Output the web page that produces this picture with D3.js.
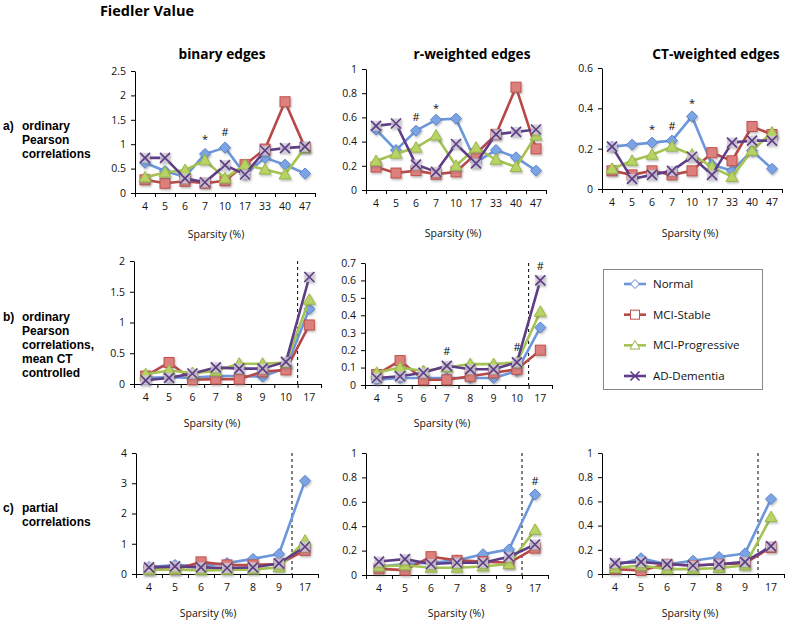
<!DOCTYPE html>
<html><head><meta charset="utf-8">
<script src="https://cdn.jsdelivr.net/npm/d3@7"></script>
<style>body{margin:0;background:#fff} svg{display:block}</style>
</head><body>
<script>
// ---------- DATA ----------
const groups = ["Normal", "MCI-Stable", "MCI-Progressive", "AD-Dementia"];
const catsA = ["4","5","6","7","10","17","33","40","47"];
const catsB = ["4","5","6","7","8","9","10","17"];
const catsC = ["4","5","6","7","8","9","17"];

// row a) ordinary Pearson correlations
const aBinNormal = [0.62,0.45,0.33,0.80,0.93,0.38,0.72,0.58,0.40];
const aBinStable = [0.27,0.20,0.24,0.20,0.25,0.58,0.90,1.87,0.93];
const aBinProg   = [0.32,0.42,0.47,0.67,0.30,0.58,0.48,0.38,0.93];
const aBinAD     = [0.72,0.72,0.30,0.22,0.57,0.38,0.87,0.92,0.95];

const aRNormal = [0.50,0.33,0.49,0.58,0.59,0.23,0.33,0.27,0.16];
const aRStable = [0.19,0.14,0.16,0.13,0.15,0.30,0.46,0.85,0.34];
const aRProg   = [0.24,0.30,0.35,0.45,0.20,0.35,0.25,0.19,0.45];
const aRAD     = [0.53,0.55,0.21,0.15,0.38,0.22,0.46,0.48,0.50];

const aCTNormal = [0.21,0.22,0.23,0.24,0.36,0.12,0.09,0.19,0.10];
const aCTStable = [0.09,0.07,0.09,0.07,0.09,0.18,0.14,0.31,0.27];
const aCTProg   = [0.10,0.14,0.17,0.21,0.17,0.11,0.06,0.19,0.28];
const aCTAD     = [0.21,0.05,0.07,0.09,0.16,0.07,0.23,0.24,0.24];

// row b) ordinary Pearson correlations, mean CT controlled
const bBinNormal = [0.10,0.11,0.10,0.13,0.13,0.12,0.26,1.22];
const bBinStable = [0.13,0.35,0.07,0.08,0.08,0.20,0.23,0.96];
const bBinProg   = [0.16,0.22,0.18,0.21,0.33,0.33,0.35,1.37];
const bBinAD     = [0.06,0.10,0.17,0.27,0.25,0.25,0.36,1.74];

const bRNormal = [0.03,0.04,0.04,0.04,0.04,0.04,0.08,0.33];
const bRStable = [0.06,0.14,0.03,0.03,0.05,0.07,0.09,0.20];
const bRProg   = [0.07,0.10,0.08,0.10,0.12,0.12,0.13,0.42];
const bRAD     = [0.04,0.05,0.07,0.11,0.09,0.09,0.13,0.60];

// row c) partial correlations
const cBinNormal = [0.23,0.30,0.27,0.36,0.50,0.66,3.08];
const cBinStable = [0.15,0.15,0.40,0.30,0.30,0.33,0.78];
const cBinProg   = [0.13,0.15,0.12,0.13,0.15,0.22,1.10];
const cBinAD     = [0.22,0.25,0.22,0.20,0.22,0.35,0.90];

const cRNormal = [0.07,0.09,0.10,0.12,0.17,0.21,0.66];
const cRStable = [0.05,0.04,0.15,0.12,0.11,0.10,0.22];
const cRProg   = [0.07,0.08,0.06,0.06,0.07,0.09,0.37];
const cRAD     = [0.11,0.13,0.09,0.10,0.10,0.15,0.25];

const cCTNormal = [0.07,0.13,0.08,0.11,0.14,0.17,0.62];
const cCTStable = [0.04,0.03,0.08,0.07,0.08,0.09,0.22];
const cCTProg   = [0.05,0.07,0.04,0.04,0.05,0.07,0.47];
const cCTAD     = [0.09,0.10,0.08,0.07,0.08,0.10,0.23];

// tick labels
const ticksABin = [0,0.5,1,1.5,2,2.5];
const ticksAR   = [0,0.2,0.4,0.6,0.8,1];
const ticksACT  = [0,0.2,0.4,0.6];
const ticksBBin = [0,0.5,1,1.5,2];
const ticksBR   = [0,0.1,0.2,0.3,0.4,0.5,0.6,0.7];
const ticksCBin = [0,1,2,3,4];
const ticksCR   = [0,0.2,0.4,0.6,0.8,1];
const ticksCCT  = [0,0.2,0.4,0.6,0.8,1];

// significance marks: [category, value, symbol]
const marksABin = [["7",1.17,"*"],["10",1.25,"#"]];
const marksAR   = [["6",0.60,"#"],["7",0.70,"*"]];
const marksACT  = [["6",0.31,"*"],["7",0.31,"#"],["10",0.44,"*"]];
const marksBR   = [["7",0.195,"#"],["10",0.22,"#"],["17",0.68,"#"]];
const marksCR   = [["17",0.77,"#"]];

// ---------- STYLE / LAYOUT ----------
const lineCol   = ["#6c97db","#b84845","#a4c352","#5f3d86"];
const markFill  = ["#7ca4e4","#dc807d","#b8d264","#cfcad8"];
const markStroke= ["#5b86cc","#c0504d","#98b84a","#5f3d86"];
const FONT = "'Open Sans', sans-serif";

const panels = [
  {cats:catsA, series:[aBinNormal,aBinStable,aBinProg,aBinAD], ticks:ticksABin, box:[135,315,71,193], title:"binary edges", tx:222, marks:marksABin, xl:[216,234]},
  {cats:catsA, series:[aRNormal,aRStable,aRProg,aRAD], ticks:ticksAR, box:[366,546,69,190], title:"r-weighted edges", tx:472, marks:marksAR, xl:[453,233]},
  {cats:catsA, series:[aCTNormal,aCTStable,aCTProg,aCTAD], ticks:ticksACT, box:[602,782,68,189], title:"CT-weighted edges", tx:716, marks:marksACT, xl:[690,233]},
  {cats:catsB, series:[bBinNormal,bBinStable,bBinProg,bBinAD], ticks:ticksBBin, box:[134,321,261,384], dashed:true, marks:[], xl:[212,423]},
  {cats:catsB, series:[bRNormal,bRStable,bRProg,bRAD], ticks:ticksBR, box:[365,552,263,385], dashed:true, marks:marksBR, xl:[442,423]},
  {cats:catsC, series:[cBinNormal,cBinStable,cBinProg,cBinAD], ticks:ticksCBin, box:[136,318,453,574], dashed:true, marks:[], xl:[208,613]},
  {cats:catsC, series:[cRNormal,cRStable,cRProg,cRAD], ticks:ticksCR, box:[366,548,453,575], dashed:true, marks:marksCR, xl:[456,613]},
  {cats:catsC, series:[cCTNormal,cCTStable,cCTProg,cCTAD], ticks:ticksCCT, box:[602,784,453,574], dashed:true, marks:[], xl:[690,613]}
];

const svg = d3.select("body").append("svg").attr("width",787).attr("height",620)
  .style("font-family",FONT);

const defs = svg.append("defs");
const f = defs.append("filter").attr("id","sh").attr("x","-50%").attr("y","-50%").attr("width","200%").attr("height","200%");
f.append("feDropShadow").attr("dx",1).attr("dy",1.5).attr("stdDeviation",1).attr("flood-color","#666").attr("flood-opacity",0.45);

function drawMarker(g, k, x, y, legend) {
  const fill = legend ? "#fff" : markFill[k];
  const st = markStroke[k];
  const m = g.append("g").attr("transform",`translate(${x},${y})`);
  if (!legend) m.attr("filter","url(#sh)");
  if (k===0) {
    const s = legend?4.5:5.5;
    m.append("path").attr("d",`M0,${-s}L${s},0L0,${s}L${-s},0Z`).attr("fill",fill).attr("stroke",st).attr("stroke-width",1);
  } else if (k===1) {
    const s = legend?4.5:5;
    m.append("rect").attr("x",-s).attr("y",-s).attr("width",2*s).attr("height",2*s).attr("fill",fill).attr("stroke",st).attr("stroke-width",1);
  } else if (k===2) {
    const s = legend?5:6;
    m.append("path").attr("d",`M0,${-s}L${s},${s*0.75}L${-s},${s*0.75}Z`).attr("fill",fill).attr("stroke",st).attr("stroke-width",1);
  } else {
    const s = legend?4.5:5;
    if (!legend) m.append("rect").attr("x",-s).attr("y",-s).attr("width",2*s).attr("height",2*s).attr("fill",fill).attr("opacity",0.8);
    m.append("path").attr("d",`M${-s},${-s}L${s},${s}M${-s},${s}L${s},${-s}`).attr("stroke",st).attr("stroke-width",1.6).attr("fill","none");
  }
}

panels.forEach(p => {
  const [x0,x1,yT,yB] = p.box;
  const n = p.cats.length;
  const x = d3.scaleBand().domain(p.cats).range([x0,x1]).padding(0);
  const xb = d3.scaleLinear().domain([0,n]).range([x0,x1]);
  const y = d3.scaleLinear().domain([0,d3.max(p.ticks)]).range([yB,yT]);
  const g = svg.append("g");

  // y axis
  const ya = g.append("g").attr("transform",`translate(${x0},0)`)
    .call(d3.axisLeft(y).tickValues(p.ticks).tickFormat(d=>String(d)).tickSize(4).tickSizeOuter(0).tickPadding(5));
  ya.select(".domain").attr("stroke","#000");
  ya.selectAll(".tick line").attr("stroke","#000");
  ya.selectAll("text").attr("font-size",10.5).attr("font-family",FONT).attr("fill","#111");

  // x axis boundary ticks
  const xt = g.append("g").attr("transform",`translate(0,${yB})`)
    .call(d3.axisBottom(xb).tickValues(d3.range(n+1)).tickFormat("").tickSize(4).tickSizeOuter(0));
  xt.select(".domain").attr("stroke","#000");
  xt.selectAll(".tick line").attr("stroke","#000");
  // x labels
  const xl = g.append("g").attr("transform",`translate(0,${yB})`)
    .call(d3.axisBottom(x).tickSize(0).tickPadding(10));
  xl.select(".domain").remove();
  xl.selectAll("text").attr("font-size",10.5).attr("font-family",FONT).attr("fill","#111");

  // x title
  g.append("text").attr("x",p.xl[0]).attr("y",p.xl[1]+4).attr("text-anchor","middle")
    .attr("font-size",10.5).attr("fill","#111").text("Sparsity (%)");

  if (p.title) g.append("text").attr("x",p.tx).attr("y",59).attr("text-anchor","middle")
    .attr("font-size",13.7).attr("font-weight","bold").attr("fill","#000").text(p.title);

  if (p.dashed) {
    const dx = x(p.cats[n-1]);
    g.append("line").attr("x1",dx).attr("x2",dx).attr("y1",yT).attr("y2",yB)
      .attr("stroke","#000").attr("stroke-width",1).attr("stroke-dasharray","3,3");
  }

  const cx = c => x(c) + x.bandwidth()/2;
  p.series.forEach((vals,k) => {
    const line = d3.line().x((d,i)=>cx(p.cats[i])).y(d=>y(d));
    g.append("path").datum(vals).attr("d",line).attr("fill","none")
      .attr("stroke",lineCol[k]).attr("stroke-width",2.6).attr("stroke-linejoin","round");
    vals.forEach((v,i)=>drawMarker(g,k,cx(p.cats[i]),y(v),false));
  });

  p.marks.forEach(([c,v,s]) => {
    g.append("text").attr("x",cx(c)).attr("y",y(v)+(s==="*"?7:4)).attr("text-anchor","middle")
      .attr("font-size",11).attr("fill","#111").text(s);
  });
});

// title
svg.append("text").attr("x",147).attr("y",16).attr("text-anchor","middle")
  .attr("font-size",14.5).attr("font-weight","bold").text("Fiedler Value");

// row labels
const rowLab = [
  {letter:"a)", y0:126, lines:["ordinary","Pearson","correlations"]},
  {letter:"b)", y0:317, lines:["ordinary","Pearson","correlations,","mean CT","controlled"]},
  {letter:"c)", y0:508, lines:["partial","correlations"]}
];
rowLab.forEach(r => {
  svg.append("text").attr("x",3).attr("y",r.y0+4).attr("font-size",12).attr("font-weight","bold")
    .attr("font-family","'Liberation Sans', Arial, sans-serif").text(r.letter);
  r.lines.forEach((s,i)=>svg.append("text").attr("x",22).attr("y",r.y0+4+i*14)
    .attr("font-size",12).attr("font-weight","bold")
    .attr("font-family","'Liberation Sans', Arial, sans-serif").text(s));
});

// legend
const lg = svg.append("g");
lg.append("rect").attr("x",603.5).attr("y",269.5).attr("width",159).attr("height",120)
  .attr("fill","#fff").attr("stroke","#888").attr("stroke-width",1);
const ly = d3.scalePoint().domain(groups).range([284,376]);
groups.forEach((gname,k) => {
  const yy = ly(gname);
  lg.append("line").attr("x1",624).attr("x2",646).attr("y1",yy).attr("y2",yy)
    .attr("stroke",lineCol[k]).attr("stroke-width",2.6);
  drawMarker(lg,k,635,yy,true);
  lg.append("text").attr("x",653).attr("y",yy+4).attr("font-size",11.5).attr("fill","#111").text(gname);
});
</script>
</body></html>
